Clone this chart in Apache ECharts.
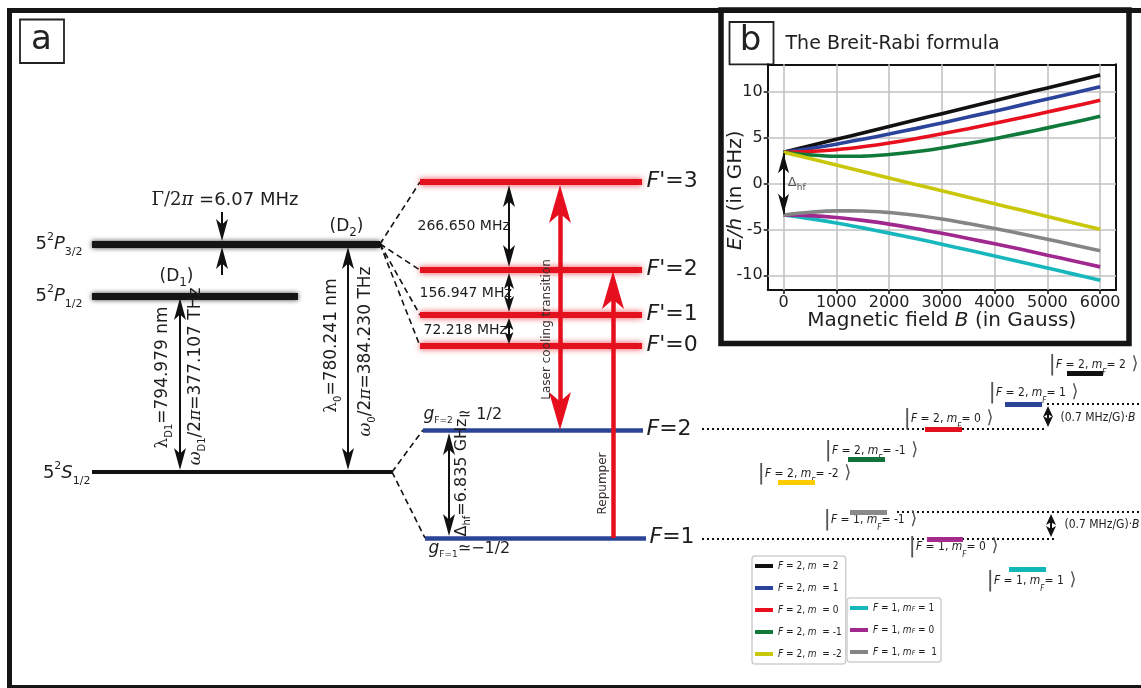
<!DOCTYPE html>
<html><head><meta charset="utf-8">
<script src="https://cdn.jsdelivr.net/npm/echarts@6/dist/echarts.min.js"></script>
<style>html,body{margin:0;padding:0;background:#fff}#c{width:1141px;height:688px}</style>
</head><body><div id="c"></div>
<script>
// ================= Panel b : Breit-Rabi energies (GHz) =================
const fieldB = [0, 500, 1000, 1500, 2000, 2500, 3000, 3500, 4000, 4500, 5000, 5500, 6000];
const E_F2_m2  = [3.42, 4.12, 4.82, 5.52, 6.22, 6.92, 7.62, 8.32, 9.02, 9.73, 10.43, 11.13, 11.83];
const E_F2_m1  = [3.42, 3.82, 4.29, 4.83, 5.40, 5.99, 6.61, 7.25, 7.89, 8.55, 9.21, 9.87, 10.54];
const E_F2_m0  = [3.42, 3.49, 3.69, 4.01, 4.42, 4.89, 5.42, 5.98, 6.57, 7.17, 7.80, 8.43, 9.08];
const E_F2_mm1 = [3.42, 3.13, 2.98, 2.99, 3.16, 3.46, 3.87, 4.36, 4.89, 5.47, 6.07, 6.69, 7.33];
const E_F2_mm2 = [3.42, 2.72, 2.02, 1.31, 0.61, -0.09, -0.79, -1.49, -2.19, -2.89, -3.59, -4.29, -4.99];
const E_F1_m1  = [-3.42, -3.82, -4.29, -4.83, -5.40, -5.99, -6.61, -7.25, -7.89, -8.55, -9.21, -9.87, -10.54];
const E_F1_m0  = [-3.42, -3.49, -3.69, -4.01, -4.42, -4.89, -5.42, -5.98, -6.57, -7.17, -7.80, -8.43, -9.08];
const E_F1_mm1 = [-3.42, -3.13, -2.98, -2.99, -3.16, -3.46, -3.87, -4.36, -4.89, -5.47, -6.07, -6.69, -7.33];
const curveNames = ['F = 2, m  = 2', 'F = 2, m  = 1', 'F = 2, m  = 0', 'F = 2, m  = -1', 'F = 2, m  = -2',
                    'F = 1, mF = 1', 'F = 1, mF = 0', 'F = 1, mF =  1'];
const curveValues = [E_F2_m2, E_F2_m1, E_F2_m0, E_F2_mm1, E_F2_mm2, E_F1_m1, E_F1_m0, E_F1_mm1];
const curveColors = ['#111111', '#2b439b', '#e8101f', '#107a3a', '#c9c70a', '#17b7bd', '#a0288f', '#858585'];
const bTicks = [0, 1000, 2000, 3000, 4000, 5000, 6000];
const eTicks = [-10, -5, 0, 5, 10];
const hfSplitB = [3.3, -3.3];

// ================= Panel a : level scheme (diagram units) =================
const fineExcited = [['5²P3/2', 92, 380, 244], ['5²P1/2', 92, 298, 296]];
const fineGround = [['5²S1/2', 92, 392, 472]];
const hfExcited = [["F'=3", 182], ["F'=2", 270], ["F'=1", 315], ["F'=0", 346]];
const hfExcitedSpan = [420, 642];
const hfGround = [['F=2', 423, 643, 430], ['F=1', 425, 646, 538]];
const hfSplittings = ['266.650 MHz', '156.947 MHz', '72.218 MHz'];
const zeemanF2 = [[2, 1067, 1103, 373], [1, 1005, 1042, 404], [0, 925, 962, 429], [-1, 848, 885, 459], [-2, 778, 815, 482]];
const zeemanF1 = [[-1, 850, 887, 512], [0, 927, 963, 539], [1, 1009, 1046, 569]];
const zeemanF2Colors = ['#111111', '#2b4596', '#e3101e', '#12733a', '#ffcc00'];
const zeemanF1Colors = ['#8a8a8a', '#a42a8c', '#12b8b8'];
const dottedRefs = [[702, 1047, 429], [1047, 1141, 404], [702, 1057, 539], [897, 1141, 512]];
const connectors = [[380, 244, 420, 182], [380, 244, 420, 270], [380, 244, 420, 315], [380, 244, 420, 346],
                    [392, 472, 423, 430], [392, 472, 425, 538]];
// arrows: [x, from, to, heads(1=end,2=both), kind]
const blackArrows = [[222, 212, 241, 1, 'k'], [222, 275, 247, 1, 'k'], [180, 298, 470, 2, 'k'], [348, 247, 470, 2, 'k'],
                     [509, 185, 267, 2, 'k'], [509, 273, 312, 2, 'km'], [509, 318, 344, 2, 'ks'], [449, 433, 536, 2, 'k'],
                     [1048, 406, 427, 2, 'kz'], [1051, 514, 537, 2, 'kz']];
const redArrows = [[560, 185, 430, 2, 'r'], [613, 538, 271, 1, 'r']];

// ================= styles =================
const FONT = '"DejaVu Sans", sans-serif';
const SERIF = '"DejaVu Serif", serif';
const COND = '"DejaVu Sans Condensed", "Liberation Sans Narrow", "DejaVu Sans", sans-serif';
const TXT = '#1e1e1e';
const HEAD = {k: [12, 22], km: [10, 16], ks: [9, 12], kz: [10, 11], r: [22, 38], ki: [11, 20]};
const UP = 'path://M5,0L10,20L5,15L0,20Z';
const DOWN = 'path://M5,20L10,0L5,5L0,0Z';

const series = [];
const G0 = {xAxisIndex: 0, yAxisIndex: 0};
const G1 = {xAxisIndex: 1, yAxisIndex: 1};

function linesSeries(data, lineStyle, z, axes) {
  series.push(Object.assign({type: 'lines', coordinateSystem: 'cartesian2d', silent: true, z: z || 2,
    data: data, lineStyle: Object.assign({opacity: 1, curveness: 0}, lineStyle)}, axes || G0));
}
// yDown: true when increasing data value goes down the screen
function arrowSeries(list, color, width, axes, yDown) {
  const shafts = [], heads = [];
  list.forEach(a => {
    const [x, from, to, nh, kind] = a;
    const [w, h] = HEAD[kind];
    const dataDir = to < from ? -1 : 1;
    const screenUp = yDown ? dataDir < 0 : dataDir > 0;
    const cut = yDown ? h * 0.5 : 0;
    shafts.push({coords: [[x, nh === 2 ? from + dataDir * cut : from], [x, to - dataDir * cut]]});
    heads.push({value: [x, to], symbol: screenUp ? UP : DOWN, symbolSize: [w, h], symbolOffset: [0, screenUp ? h / 2 : -h / 2]});
    if (nh === 2) heads.push({value: [x, from], symbol: screenUp ? DOWN : UP, symbolSize: [w, h], symbolOffset: [0, screenUp ? -h / 2 : h / 2]});
  });
  linesSeries(shafts, {color: color, width: width}, 4, axes);
  series.push(Object.assign({type: 'scatter', silent: true, z: 5, data: heads,
    itemStyle: {color: color, opacity: 1}}, axes || G0));
}

// ---- panel b grid lines, curves
const bxMin = -300, bxMax = 6300, eyMin = -11.6, eyMax = 13;
linesSeries(bTicks.map(b => ({coords: [[b, eyMin], [b, eyMax]]})).concat(
            eTicks.map(e => ({coords: [[bxMin, e], [bxMax, e]]}))),
            {color: '#c2c2c2', width: 1.6}, 1, G1);
curveNames.forEach((name, i) => {
  series.push(Object.assign({type: 'line', name: name, smooth: 0.35, showSymbol: false, symbol: 'none', clip: false,
    z: 3 + i * 0.01, silent: true,
    data: fieldB.map((b, j) => [b, curveValues[i][j]]),
    lineStyle: {color: curveColors[i], width: 3.6}, itemStyle: {color: curveColors[i]}}, G1));
});
arrowSeries([[0, hfSplitB[0], hfSplitB[1], 2, 'ki']], '#111', 2, G1, false);

// ---- panel a levels
linesSeries(fineExcited.map(l => ({coords: [[l[1], l[3]], [l[2], l[3]]]})),
  {color: '#151515', width: 7, shadowBlur: 5, shadowColor: 'rgba(0,0,0,0.75)'}, 3);
linesSeries(fineGround.map(l => ({coords: [[l[1], l[3]], [l[2], l[3]]]})), {color: '#111', width: 4}, 3);
linesSeries(hfExcited.map(l => ({coords: [[hfExcitedSpan[0], l[1]], [hfExcitedSpan[1], l[1]]]})),
  {color: '#e3121e', width: 6, shadowBlur: 6, shadowColor: 'rgba(235,20,30,0.8)'}, 3);
linesSeries(hfGround.map(l => ({coords: [[l[1], l[3]], [l[2], l[3]]]})), {color: '#2b4596', width: 4.5}, 3);
linesSeries(connectors.map(c => ({coords: [[c[0], c[1]], [c[2], c[3]]]})), {color: '#111', width: 1.6, type: [6, 4]}, 2);
linesSeries(dottedRefs.map(d => ({coords: [[d[0], d[2]], [d[1], d[2]]]})), {color: '#111', width: 2, type: [2, 3]}, 2);
arrowSeries(blackArrows, '#111', 2, G0, true);
arrowSeries(redArrows, '#e60f1e', 4.5, G0, true);

// ---- text annotations (labels on invisible points)
function ket(F, m) {
  return '{kb||}{ci|F}{cn| = ' + F + ', }{ci|m}{cs|F}{cn|= ' + m + '}{ka| ⟩}';
}
const texts = [
  [42, 41, '{tag|a}', 'center'],
  [83, 245, '{n18|5}{sup|2}{i18|P}{sub|3/2}', 'right'],
  [83, 297, '{n18|5}{sup|2}{i18|P}{sub|1/2}', 'right'],
  [91, 474, '{n18|5}{sup|2}{i18|S}{sub|1/2}', 'right'],
  [152, 201, '{sr18|Γ/2}{si18|π}{n18b| =6.07 MHz}', 'left'],
  [330, 227, '{n17|(D}{sb12|2}{n17|)}', 'left'],
  [160, 277, '{n17|(D}{sb12|1}{n17|)}', 'left'],
  [163, 378, '{sr17|λ}{sb10|D1}{n17|=794.979 nm}', 'center', 90],
  [196, 377, '{si17|ω}{sb10|D1}{n17|/2}{si17|π}{n17|=377.107 THz}', 'center', 90],
  [332, 346, '{sr17|λ}{sb10|0}{n17|=780.241 nm}', 'center', 90],
  [366, 352, '{si17|ω}{sb10|0}{n17|/2}{si17|π}{n17|=384.230 THz}', 'center', 90],
  [418, 227, '{m14|' + hfSplittings[0] + '}'],
  [420, 294, '{m14|' + hfSplittings[1] + '}'],
  [424, 331, '{m14|' + hfSplittings[2] + '}'],
  [547, 330, '{s12|Laser cooling transition}', 'center', 90],
  [603, 484, '{s12|Repumper}', 'center', 90],
  [424, 415, '{gi|g}{gs|F=2}{g16| ≃ 1/2}'],
  [429, 549, '{gi|g}{gs|F=1}{g16|≃−1/2}'],
  [462, 478, '{n16|Δ}{sb10|hf}{n16|=6.835 GHz}', 'center', 90],
  [1049, 365, ket(2, 2)], [989, 393, ket(2, 1)], [904, 419, ket(2, 0)], [825, 451, ket(2, -1)], [758, 474, ket(2, -2)],
  [824, 520, ket(1, -1)], [909, 547, ket(1, 0)], [987, 581, ket(1, 1)],
  [1061, 418, '{cn15|(0.7 MHz/G)·}{ci15|B}'],
  [1065, 525, '{cn15|(0.7 MHz/G)·}{ci15|B}'],
  [751, 42, '{tag|b}', 'center'],
  [786, 45, '{t19|The Breit-Rabi formula}']
];
hfExcited.forEach(l => texts.push([647, l[1], '{fi|F}{fn|' + l[0].slice(1) + '}']));
hfGround.forEach(l => texts.push([l[2] + 4, l[3], '{fi|F}{fn|' + l[0].slice(1) + '}']));

const rich = {
  tag: {fontFamily: FONT, fontSize: 34, color: '#222', lineHeight: 40},
  n18: {fontFamily: FONT, fontSize: 18, color: TXT, lineHeight: 26},
  n18b: {fontFamily: FONT, fontSize: 18, color: TXT, lineHeight: 24},
  i18: {fontFamily: FONT, fontSize: 18, fontStyle: 'italic', color: TXT, lineHeight: 26},
  sup: {fontFamily: FONT, fontSize: 11, color: TXT, lineHeight: 12, verticalAlign: 'top'},
  sub: {fontFamily: FONT, fontSize: 11, color: TXT, lineHeight: 12, verticalAlign: 'bottom'},
  n17: {fontFamily: FONT, fontSize: 17, color: TXT, lineHeight: 24},
  n16: {fontFamily: FONT, fontSize: 16, color: TXT, lineHeight: 22},
  sr17: {fontFamily: SERIF, fontSize: 17, color: TXT, lineHeight: 24},
  si17: {fontFamily: SERIF, fontSize: 17, fontStyle: 'italic', color: TXT, lineHeight: 24},
  sr18: {fontFamily: SERIF, fontSize: 18, color: TXT, lineHeight: 24},
  si18: {fontFamily: SERIF, fontSize: 18, fontStyle: 'italic', color: TXT, lineHeight: 24},
  sb12: {fontFamily: FONT, fontSize: 12, color: TXT, lineHeight: 12, verticalAlign: 'bottom'},
  sb10: {fontFamily: FONT, fontSize: 10, color: TXT, lineHeight: 10, verticalAlign: 'bottom'},
  m14: {fontFamily: FONT, fontSize: 14, color: TXT},
  s12: {fontFamily: FONT, fontSize: 12, color: '#3b2f2f'},
  gi: {fontFamily: FONT, fontSize: 17, fontStyle: 'italic', color: TXT, lineHeight: 22},
  gs: {fontFamily: FONT, fontSize: 9, color: TXT, lineHeight: 9, verticalAlign: 'bottom'},
  g16: {fontFamily: FONT, fontSize: 16, color: TXT, lineHeight: 22},
  fi: {fontFamily: FONT, fontSize: 22, fontStyle: 'italic', color: TXT},
  fn: {fontFamily: FONT, fontSize: 22, color: TXT},
  kb: {fontFamily: FONT, fontSize: 22, color: '#555', lineHeight: 24},
  ka: {fontFamily: FONT, fontSize: 18, color: '#555', lineHeight: 24},
  cn: {fontFamily: COND, fontSize: 12, color: TXT, lineHeight: 24},
  ci: {fontFamily: COND, fontSize: 12, fontStyle: 'italic', color: TXT, lineHeight: 24},
  cs: {fontFamily: COND, fontSize: 8, fontStyle: 'italic', color: TXT, lineHeight: 8, verticalAlign: 'bottom'},
  cn15: {fontFamily: COND, fontSize: 12, color: TXT},
  ci15: {fontFamily: COND, fontSize: 12, fontStyle: 'italic', color: TXT},
  t19: {fontFamily: FONT, fontSize: 19, color: '#222'},
  hfl: {fontFamily: FONT, fontSize: 13, color: '#555', lineHeight: 18},
  hfs: {fontFamily: FONT, fontSize: 9, color: '#555', lineHeight: 9, verticalAlign: 'bottom'}
};
series.push(Object.assign({type: 'scatter', silent: true, z: 6, symbolSize: 1,
  itemStyle: {color: 'rgba(0,0,0,0)', opacity: 1},
  label: {show: true, position: [0, 0], color: TXT, fontFamily: FONT, rich: rich},
  data: texts.map(t => ({value: [t[0], t[1]],
    label: {show: true, formatter: t[2], align: t[3] || 'left', verticalAlign: 'middle', rotate: t[4] || 0}}))}, G0));
// zeeman sublevel bars (drawn above ket text)
linesSeries(zeemanF2.map((z, i) => ({coords: [[z[1], z[3]], [z[2], z[3]]], lineStyle: {color: zeemanF2Colors[i]}}))
  .concat(zeemanF1.map((z, i) => ({coords: [[z[1], z[3]], [z[2], z[3]]], lineStyle: {color: zeemanF1Colors[i]}}))),
  {width: 5}, 7);
// inset Δhf label
series.push(Object.assign({type: 'scatter', silent: true, z: 6, symbolSize: 1, itemStyle: {color: 'rgba(0,0,0,0)', opacity: 1},
  label: {show: true, position: [0, 0], align: 'left', verticalAlign: 'middle', rich: rich, formatter: '{hfl|Δ}{hfs|hf}'},
  data: [[90, 0]]}, G1));

const legendText = name => {
  const p = name.split(',');
  const f = p[0].trim().replace('F', '{li|F}');
  const m = p[1].replace(/m(F?)/, (s, g) => '{li|m}' + (g ? '{ls|F}' : ''));
  return f + ',' + m;
};
const legendBase = {orient: 'vertical', icon: 'rect', itemWidth: 18, itemHeight: 4, itemGap: 12, itemTextGap: 4,
  padding: [5, 4, 5, 3], borderColor: '#cfcfcf', borderWidth: 1.5, borderRadius: 3, selectedMode: false,
  formatter: legendText,
  textStyle: {fontSize: 10, fontFamily: COND, color: TXT,
    rich: {li: {fontSize: 10, fontFamily: COND, fontStyle: 'italic', color: TXT},
           ls: {fontSize: 7, fontFamily: COND, fontStyle: 'italic', color: TXT, verticalAlign: 'bottom', lineHeight: 6}}}};

const axisFont = {fontFamily: FONT, fontSize: 16, color: '#222'};
const option = {
  animation: false,
  backgroundColor: '#fff',
  grid: [
    {left: 0, top: 0, width: 1141, height: 688, outerBoundsMode: 'none'},
    {left: 767.7, top: 64.3, width: 348.3, height: 225.7, outerBoundsMode: 'none'}
  ],
  xAxis: [
    {gridIndex: 0, type: 'value', min: 0, max: 1141, show: false},
    {gridIndex: 1, type: 'value', min: bxMin, max: bxMax, position: 'bottom',
     axisLine: {show: true, onZero: false, lineStyle: {color: '#111', width: 2}},
     axisTick: {show: true, length: 4, customValues: bTicks, lineStyle: {color: '#111', width: 1.5}},
     axisLabel: Object.assign({customValues: bTicks, margin: 5, formatter: v => String(v)}, axisFont),
     splitLine: {show: false},
     name: 'Magnetic field {i|B} (in Gauss)', nameLocation: 'middle', nameGap: 21, nameMoveOverlap: false,
     nameTextStyle: {fontFamily: FONT, fontSize: 20, color: TXT,
       rich: {i: {fontFamily: FONT, fontSize: 20, fontStyle: 'italic', color: TXT}}}},
    {gridIndex: 1, type: 'value', min: bxMin, max: bxMax, position: 'top',
     axisLine: {show: true, onZero: false, lineStyle: {color: '#111', width: 2}},
     axisTick: {show: false}, axisLabel: {show: false}, splitLine: {show: false}}
  ],
  yAxis: [
    {gridIndex: 0, type: 'value', min: 0, max: 688, inverse: true, show: false},
    {gridIndex: 1, type: 'value', min: eyMin, max: eyMax, position: 'left',
     axisLine: {show: true, onZero: false, lineStyle: {color: '#111', width: 2}},
     axisTick: {show: true, length: 4, customValues: eTicks, lineStyle: {color: '#111', width: 1.5}},
     axisLabel: Object.assign({customValues: eTicks, margin: 5, formatter: v => String(v)}, axisFont),
     splitLine: {show: false},
     name: '{i|E/h} (in GHz)', nameLocation: 'middle', nameGap: 22, nameMoveOverlap: false,
     nameTextStyle: {fontFamily: FONT, fontSize: 20, color: TXT, padding: [0, 26, 0, 0],
       rich: {i: {fontFamily: FONT, fontSize: 20, fontStyle: 'italic', color: TXT}}}},
    {gridIndex: 1, type: 'value', min: eyMin, max: eyMax, position: 'right',
     axisLine: {show: true, onZero: false, lineStyle: {color: '#111', width: 2}},
     axisTick: {show: false}, axisLabel: {show: false}, splitLine: {show: false}}
  ],
  legend: [
    Object.assign({}, legendBase, {left: 752, top: 556, data: curveNames.slice(0, 5)}),
    Object.assign({}, legendBase, {left: 847, top: 598, data: curveNames.slice(5)})
  ],
  graphic: [
    {type: 'rect', silent: true, z: 0, shape: {x: 9.5, y: 10.5, width: 1160, height: 677}, style: {fill: 'none', stroke: '#151515', lineWidth: 5}},
    {type: 'rect', silent: true, z: 0, shape: {x: 20, y: 19.5, width: 44, height: 43.5}, style: {fill: 'none', stroke: '#222', lineWidth: 1.8}},
    {type: 'rect', silent: true, z: 0, shape: {x: 721, y: 10, width: 408, height: 333.5}, style: {fill: 'none', stroke: '#151515', lineWidth: 5.5}},
    {type: 'rect', silent: true, z: 0, shape: {x: 729.5, y: 22, width: 44, height: 42.3}, style: {fill: 'none', stroke: '#222', lineWidth: 1.8}}
  ],
  series: series
};
const chart = echarts.init(document.getElementById('c'), null, {renderer: 'canvas', width: 1141, height: 688});
chart.setOption(option);
</script>
</body></html>
